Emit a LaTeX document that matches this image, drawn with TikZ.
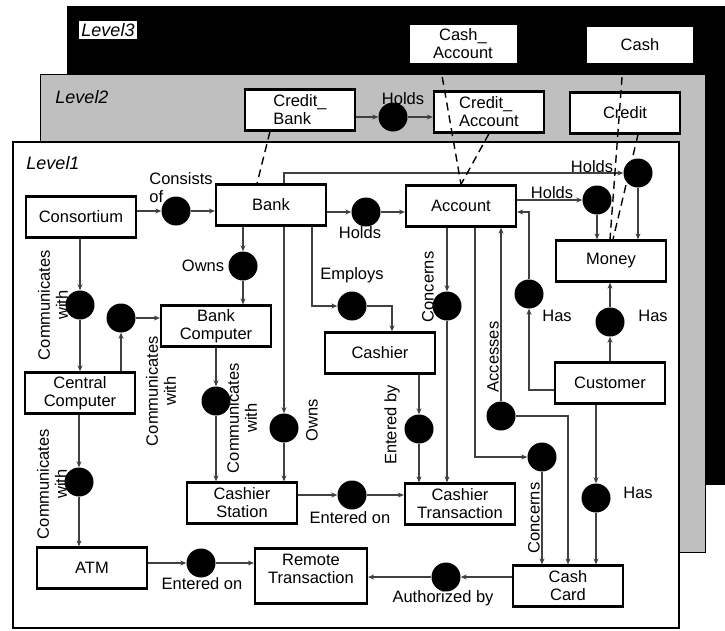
\documentclass[tikz,border=0pt]{standalone}
\usepackage{fontspec}
\setmainfont{Liberation Sans}
\usetikzlibrary{arrows.meta}

\begin{document}
\begin{tikzpicture}[x=1pt,y=-1pt,
        every node/.style={font=\fontsize{16.5}{18}\selectfont,align=center,inner sep=1pt},
        ent/.style={draw,line width=2.2pt,fill=white,minimum width=110pt,minimum height=41pt},
        rel/.style={circle,fill=black,minimum size=29pt,inner sep=0pt},
        lvl/.style={font=\fontsize{18}{20}\selectfont\itshape},
        link/.style={draw=black!75,line width=1.1pt,-{Stealth[length=6pt,width=5pt]}},
        refine/.style={draw=black,line width=1.4pt,dash pattern=on 8pt off 5pt}]
        \useasboundingbox (0,0) rectangle (725,630);
        \fill[black] (67,6) rectangle (725,485);
        \filldraw[fill=black!25,draw=black,line width=0.8pt] (40,74) rectangle (705,552);
        \filldraw[fill=white,draw=black,line width=1.8pt] (13,142) rectangle (679,628);

        \node[lvl,fill=white,inner sep=2pt] (lev3) at (108,30) {Level3};
        \node[lvl] (lev2) at (82,97) {Level2};
        \node[lvl] (lev1) at (53,163) {Level1};

        \node[ent,draw=none,minimum width=107pt,minimum height=38pt] (cashacc) at (463,44) {Cash\_\\Account};
        \node[ent,draw=none,minimum width=106pt,minimum height=36pt] (cash) at (640,45) {Cash};

        \node[ent,align=left] (creditbank) at (300,110) {Credit\_\\Bank};
        \node[ent,align=left] (creditacc) at (489,112) {Credit\_\\Account};
        \node[ent] (credit) at (625,113) {Credit};
        \node[rel] (l2holds) at (393,117) {};
        \node (ll2holds) at (403,99) {Holds};
        \draw[link] (creditbank.east |- l2holds) -- (l2holds);
        \draw[link] (l2holds) -- (creditacc.west |- l2holds);

        \node[ent] (consortium) at (81,217) {Consortium};
        \node[ent] (bank) at (271,205) {Bank};
        \node[ent] (account) at (461,206) {Account};
        \node[ent] (money) at (611,261) {Money};
        \node[ent] (bankcomp) at (216,326) {Bank\\Computer};
        \node[ent] (cashier) at (380,353) {Cashier};
        \node[ent] (central) at (80,393) {Central\\Computer};
        \node[ent] (customer) at (610,383) {Customer};
        \node[ent] (cashstation) at (242,503) {Cashier\\Station};
        \node[ent] (cashtrans) at (460,504) {Cashier\\Transaction};
        \node[ent] (atm) at (92,568) {ATM};
        \node[ent,minimum width=112pt,minimum height=55pt] (remote) at (311,576) {Remote\\Transaction\\[-4pt]\mbox{}};
        \node[ent] (cashcard) at (568,586) {Cash\\Card};

        \node[rel] (c_consists) at (176,211) {};
        \node[rel] (c_owns1) at (243,266) {};
        \node[rel] (c_bankholds) at (366,212) {};
        \node[rel] (c_employs) at (352,306) {};
        \node[rel] (c_holds1) at (638,173) {};
        \node[rel] (c_holds2) at (597,200) {};
        \node[rel] (c_comm1) at (80,305) {};
        \node[rel] (c_comm2) at (121,318) {};
        \node[rel] (c_comm3) at (216,401) {};
        \node[rel] (c_comm4) at (79,482) {};
        \node[rel] (c_owns2) at (284,428) {};
        \node[rel] (c_concerns1) at (447,306) {};
        \node[rel] (c_enteredby) at (419,429) {};
        \node[rel] (c_entered1) at (352,495) {};
        \node[rel] (c_has1) at (529,294) {};
        \node[rel] (c_has2) at (610,322) {};
        \node[rel] (c_accesses) at (501,416) {};
        \node[rel] (c_concerns2) at (542,457) {};
        \node[rel] (c_has3) at (596,498) {};
        \node[rel] (c_auth) at (446,577) {};
        \node[rel] (c_entered2) at (201,563) {};

        \node[align=left] (lconsists) at (181,188) {Consists\\of};
        \node (lowns1) at (203,266) {Owns};
        \node (lbankholds) at (360,233) {Holds};
        \node (lemploys) at (352,275) {Employs};
        \node (lholds1) at (592,167) {Holds};
        \node (lholds2) at (552,193) {Holds};
        \node[rotate=90] (lcomm1) at (53,305) {Communicates\\with};
        \node[rotate=90] (lcomm2) at (161,391) {Communicates\\with};
        \node[rotate=90] (lcomm3) at (242,418) {Communicates\\with};
        \node[rotate=90] (lcomm4) at (52,484) {Communicates\\with};
        \node[rotate=90] (lowns2) at (312,420) {Owns};
        \node[rotate=90] (lconcerns1) at (428,287) {Concerns};
        \node[rotate=90] (lenteredby) at (392,425) {Entered by};
        \node[rotate=90] (laccesses) at (493,357) {Accesses};
        \node[rotate=90] (lconcerns2) at (534,518) {Concerns};
        \node (lhas1) at (557,316) {Has};
        \node (lhas2) at (653,316) {Has};
        \node (lhas3) at (638,493) {Has};
        \node (lentered1) at (350,518) {Entered on};
        \node (lentered2) at (202,584) {Entered on};
        \node (lauth) at (443,598) {Authorized by};

        \draw[link] (consortium.east |- c_consists) -- (c_consists);
        \draw[link] (c_consists) -- (bank.west |- c_consists);
        \draw[link] (bank.south -| c_owns1) -- (c_owns1);
        \draw[link] (c_owns1) -- (bankcomp.north -| c_owns1);
        \draw[link] (bank.east |- c_bankholds) -- (c_bankholds);
        \draw[link] (c_bankholds) -- (account.west |- c_bankholds);
        \draw[link] ([xshift=41pt]bank.south) |- (c_employs);
        \draw[link] (c_employs) -| ([xshift=12pt]cashier.north);
        \draw[link] (bank.north -| c_owns2) |- (c_holds1);
        \draw[link] (c_holds1) -- (money.north -| c_holds1);
        \draw[link] (bank.south -| c_owns2) -- (c_owns2);
        \draw[link] (c_owns2) -- (cashstation.north -| c_owns2);
        \draw[link] (account.east |- c_holds2) -- (c_holds2);
        \draw[link] (c_holds2) -- (money.north -| c_holds2);
        \draw[link] (account.south -| c_concerns1) -- (c_concerns1);
        \draw[link] (c_concerns1) -- (cashtrans.north -| c_concerns1);
        \draw[link] ([xshift=14pt]account.south) |- (c_concerns2);
        \draw[link] (c_concerns2) -- (cashcard.north -| c_concerns2);
        \draw[link] (c_accesses) -- (account.south -| c_accesses);
        \draw[link] (c_accesses) -| (cashcard.north);
        \draw[link] ([yshift=-7pt]customer.west) -| (c_has1);
        \draw[link] (c_has1) |- ([yshift=-6pt]account.east);
        \draw[link] (customer.north -| c_has2) -- (c_has2);
        \draw[link] (c_has2) -- (money.south -| c_has2);
        \draw[link] (customer.south -| c_has3) -- (c_has3);
        \draw[link] (c_has3) -- (cashcard.north -| c_has3);
        \draw[link] (cashier.south -| c_enteredby) -- (c_enteredby);
        \draw[link] (c_enteredby) -- (cashtrans.north -| c_enteredby);
        \draw[link] (cashstation.east |- c_entered1) -- (c_entered1);
        \draw[link] (c_entered1) -- (cashtrans.west |- c_entered1);
        \draw[link] (cashcard.west |- c_auth) -- (c_auth);
        \draw[link] (c_auth) -- (remote.east |- c_auth);
        \draw[link] (atm.east |- c_entered2) -- (c_entered2);
        \draw[link] (c_entered2) -- (remote.west |- c_entered2);
        \draw[link] (consortium.south -| c_comm1) -- (c_comm1);
        \draw[link] (c_comm1) -- (central.north -| c_comm1);
        \draw[link] (central.north -| c_comm2) -- (c_comm2);
        \draw[link] (c_comm2) -- (bankcomp.west |- c_comm2);
        \draw[link] (bankcomp.south -| c_comm3) -- (c_comm3);
        \draw[link] (c_comm3) -- (cashstation.north -| c_comm3);
        \draw[link] (central.south -| c_comm4) -- (c_comm4);
        \draw[link] (c_comm4) -- (atm.north -| c_comm4);

        \draw[refine] ([xshift=-30pt]creditbank.south) -- ([xshift=-14pt]bank.north);
        \draw[refine] ([xshift=-23pt]cashacc.south) -- (account.north);
        \draw[refine] (creditacc.south) -- (account.north);
        \draw[refine] ([xshift=-17pt]cash.south) -- ([xshift=-1pt]money.north);
        \draw[refine] ([xshift=13pt]credit.south) -- ([xshift=2pt]money.north);
\end{tikzpicture}
\end{document}
